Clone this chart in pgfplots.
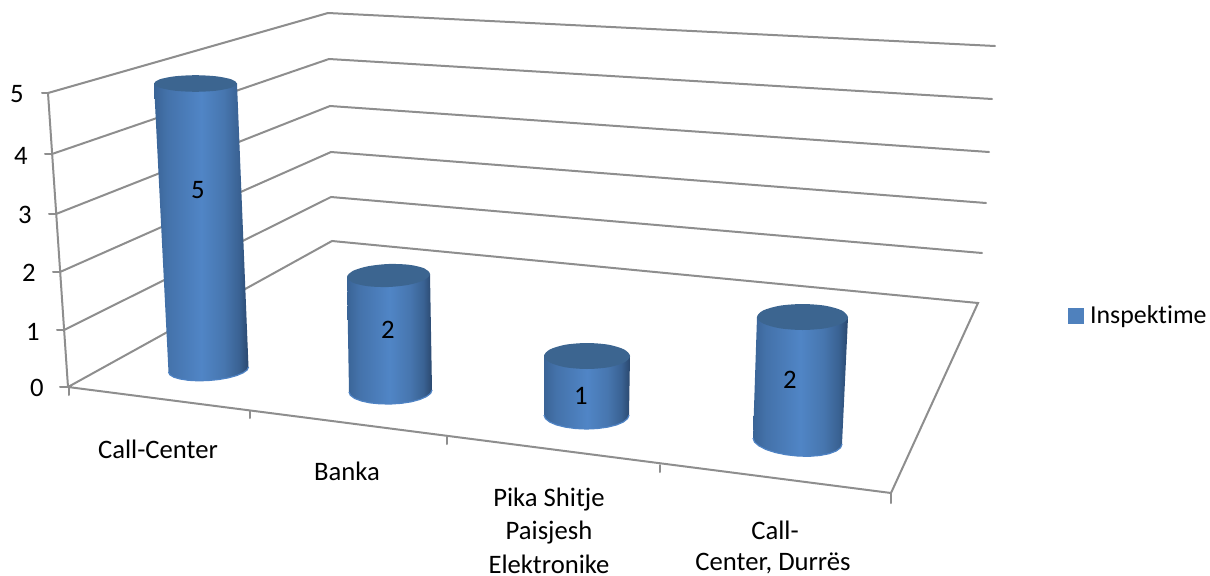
\documentclass[border=0pt]{standalone}
\usepackage{pgfplots}
\pgfplotsset{compat=1.18}
\usepackage{fontspec}
\setmainfont[Ligatures=NoCommon]{Carlito}
\definecolor{gridc}{HTML}{8E8E8E}
\definecolor{topc}{HTML}{3C6590}
\definecolor{legc}{HTML}{4F81BD}
\definecolor{rimc}{HTML}{4F83C4}
\pgfdeclarehorizontalshading{cyl}{100bp}{
 rgb(0bp)=(.227,.392,.588);
 rgb(25bp)=(.227,.392,.588);
 rgb(32bp)=(.267,.447,.667);
 rgb(50bp)=(.314,.522,.776);
 rgb(62bp)=(.278,.463,.686);
 rgb(70bp)=(.227,.384,.576);
 rgb(75bp)=(.165,.282,.431);
 rgb(100bp)=(.165,.282,.431)}
\pgfplotsset{
 gl/.style={draw=gridc,line width=1.5pt,no marks,forget plot,line cap=round},
 body/.style={draw=none,no marks,forget plot,shade,shading=cyl},
 cap/.style={draw=none,fill=topc,no marks,forget plot,smooth cycle},
 rim/.style={draw=rimc,line width=.9pt,no marks,forget plot}
}
\tikzset{lab/.style={inner sep=0pt,outer sep=0pt}}
\begin{document}
\begin{tikzpicture}
\begin{axis}[
 scale only axis,width=907.5pt,height=431.25pt,
 xmin=0,xmax=1210,ymin=0,ymax=575,y dir=reverse,
 hide axis,clip=false,
 font=\fontsize{20}{24}\selectfont,
 legend style={at={(axis cs:1068,316)},anchor=west,draw=none,fill=none,inner sep=0pt,outer sep=0pt,
   font=\fontsize{19.4}{24}\selectfont,legend cell align=left,
   nodes={inner sep=0pt,outer sep=0pt},
   /tikz/every odd column/.append style={column sep=5pt}},
]
\path[use as bounding box] (axis cs:0,0) rectangle (axis cs:1210,575);
% walls and floor: gridlines for 5..0
\addplot[gl] coordinates {(48,93) (328,13) (995,46)};
\addplot[gl] coordinates {(52,154) (329,59) (992,99)};
\addplot[gl] coordinates {(56,214) (330,106) (989,152)};
\addplot[gl] coordinates {(60,272) (331,152) (986,203)};
\addplot[gl] coordinates {(64,330) (331,197) (982,253)};
\addplot[gl] coordinates {(68,387) (332,241) (978,303) (891,493) (68,387)};
% value axis
\addplot[gl] coordinates {(48,93) (68,387)};
\addplot[gl] coordinates {(42,93) (48,93)};
\addplot[gl] coordinates {(45,154) (52,154)};
\addplot[gl] coordinates {(49,214) (56,214)};
\addplot[gl] coordinates {(53,272) (60,272)};
\addplot[gl] coordinates {(57,330) (64,330)};
\addplot[gl] coordinates {(60,387) (68,387)};
% category ticks
\addplot[gl] coordinates {(69,387) (69,395)};
\addplot[gl] coordinates {(250,411) (250,418)};
\addplot[gl] coordinates {(447,437) (447,444)};
\addplot[gl] coordinates {(660,465) (660,472)};
\addplot[gl] coordinates {(891,493) (891,503)};
% cylinder 1 (value 5)
\addplot[body] coordinates {(168.5,372) (169.9,374.8) (173.9,377.2) (180.2,379) (188.5,380.3) (198.1,380.8) (208.5,380.5) (218.9,379.5) (228.5,377.8) (236.8,375.5) (243.1,372.8) (247.1,370) (248.5,367) (237,83.5) (154,84) (168.5,372)};
\addplot[rim] coordinates {(168.5,372) (169.9,374.8) (173.9,377.2) (180.2,379) (188.5,380.3) (198.1,380.8) (208.5,380.5) (218.9,379.5) (228.5,377.8) (236.8,375.5) (243.1,372.8) (247.1,370) (248.5,367)};
\addplot[cap] coordinates {(237,83.5) (231.4,87.65) (216.25,90.7) (195.5,91.8) (174.75,90.7) (159.6,87.65) (154,83.5) (159.6,79.35) (174.75,76.3) (195.5,75.2) (216.25,76.3) (231.4,79.35)};
% cylinder 2 (value 2)
\addplot[body] coordinates {(349,392) (350.4,395.3) (354.6,398.4) (361.2,400.9) (369.75,402.8) (379.8,403.8) (390.5,404) (401.2,403.3) (411.25,401.8) (419.8,399.5) (426.4,396.6) (430.6,393.4) (432,390) (430,274) (347,277) (349,392)};
\addplot[rim] coordinates {(349,392) (350.4,395.3) (354.6,398.4) (361.2,400.9) (369.75,402.8) (379.8,403.8) (390.5,404) (401.2,403.3) (411.25,401.8) (419.8,399.5) (426.4,396.6) (430.6,393.4) (432,390)};
\addplot[cap] coordinates {(430,274) (424.4,280) (409.25,284.7) (388.5,287) (367.75,286.2) (352.6,282.6) (347,277) (352.6,271) (367.75,266.3) (388.5,264) (409.25,264.8) (424.4,268.4)};
% cylinder 3 (value 1)
\addplot[body] coordinates {(544,415) (545.45,418.6) (549.7,422) (556.45,424.9) (565.25,427.1) (575.5,428.5) (586.5,429) (597.5,428.5) (607.75,427.1) (616.55,424.9) (623.3,422) (627.55,418.6) (629,415) (630,356) (544,356) (544,415)};
\addplot[rim] coordinates {(544,415) (545.45,418.6) (549.7,422) (556.45,424.9) (565.25,427.1) (575.5,428.5) (586.5,429) (597.5,428.5) (607.75,427.1) (616.55,424.9) (623.3,422) (627.55,418.6) (629,415)};
\addplot[cap] coordinates {(630,356) (624.2,362.5) (608.5,367.3) (587,369) (565.5,367.3) (549.8,362.5) (544,356) (549.8,349.5) (565.5,344.7) (587,343) (608.5,344.7) (624.2,349.5)};
% cylinder 4 (value 2)
\addplot[body] coordinates {(753,438) (754.5,442) (759,445.9) (766,449.5) (775.25,452.5) (786,454.7) (797.5,456) (809,456.3) (819.75,455.5) (829,453.7) (836,451.1) (840.5,447.8) (842,444) (848,317.5) (757,317) (753,438)};
\addplot[rim] coordinates {(753,438) (754.5,442) (759,445.9) (766,449.5) (775.25,452.5) (786,454.7) (797.5,456) (809,456.3) (819.75,455.5) (829,453.7) (836,451.1) (840.5,447.8) (842,444)};
\addplot[cap] coordinates {(848,317.5) (841.9,323.5) (825.25,328.3) (802.5,330) (779.75,328.3) (763.1,323.5) (757,317) (763.1,310.5) (779.75,305.7) (802.5,304) (825.25,305.7) (841.9,310.5)};
% data labels
\addplot[only marks,mark=none,forget plot,point meta=explicit symbolic,nodes near coords,
  every node near coord/.append style={anchor=center,inner sep=0pt,text=black}]
  coordinates {(198,190) [5] (388,330) [2] (581,396) [1] (790,380) [2]};
% legend entry
\addlegendimage{legend image code/.code={\fill[legc] (0pt,-5.6pt) rectangle (11.2pt,5.6pt);}}
\addlegendentry{Inspektime}
% text
\node[lab] at (axis cs:17,94) {5};
\node[lab] at (axis cs:21,156) {4};
\node[lab] at (axis cs:25,215) {3};
\node[lab] at (axis cs:29,273) {2};
\node[lab] at (axis cs:33,332) {1};
\node[lab] at (axis cs:37,388) {0};
\node[lab] at (axis cs:158,449) {Call-Center};
\node[lab] at (axis cs:347,471) {Banka};
\node[lab] at (axis cs:549,500) {Pika Shitje};
\node[lab] at (axis cs:549,533) {Paisjesh};
\node[lab] at (axis cs:549,564) {Elektronike};
\node[lab] at (axis cs:775,530) {Call-};
\node[lab] at (axis cs:773,563) {Center, Durrës};
\end{axis}
\end{tikzpicture}
\end{document}
